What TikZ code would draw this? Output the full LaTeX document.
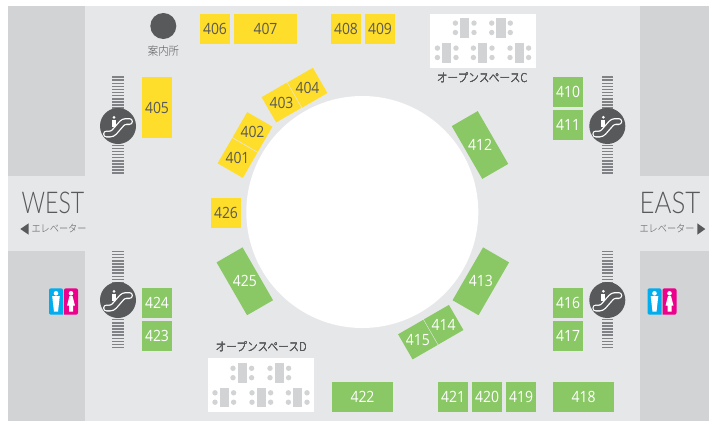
\documentclass[tikz,border=0pt]{standalone}
\usepackage{fontspec}
\setmainfont{Open Sans}
\newfontfamily\numfont{Open Sans}[FakeStretch=0.9]
\newfontfamily\westfont{Lato Light}[FakeStretch=0.77]
\newfontfamily\eastfont{Lato Light}[FakeStretch=0.86]
\newfontfamily\jpfont{Noto Sans CJK JP Light}[FakeStretch=0.88]
\definecolor{floorgrey}{HTML}{E6E7E9}
\definecolor{blockgrey}{HTML}{D1D3D4}
\definecolor{boothyellow}{HTML}{FFDD2B}
\definecolor{boothgreen}{HTML}{8AC866}
\definecolor{inkgrey}{HTML}{58595B}
\definecolor{stairgrey}{HTML}{808285}
\definecolor{manblue}{HTML}{00AEEF}
\definecolor{ladypink}{HTML}{EC008C}
\tikzset{
    booth/.style={inner sep=0pt,outer sep=0pt,minimum width=30,minimum height=30,font=\numfont\fontsize{15.5}{15.5}\selectfont},
    wide/.style={minimum width=61},
    tall/.style={minimum height=61},
    yellowbooth/.style={booth,fill=boothyellow,text=inkgrey},
    greenbooth/.style={booth,fill=boothgreen,text=white},
    number/.style={inner sep=0pt,font=\numfont\fontsize{15.5}{15.5}\selectfont},
    jplabel/.style={inner sep=0pt,text=inkgrey,font=\jpfont\fontsize{12.2}{12.2}\selectfont},
    smalljp/.style={inner sep=0pt,text=inkgrey,font=\jpfont\fontsize{10.4}{10.4}\selectfont},
    titlelabel/.style={inner sep=0pt,text=inkgrey}
}
% one escalator: stairs above and below, disc on top
\newcommand{\escalator}[3]{
    \foreach \i in {0,...,31}
        \fill[stairgrey] (#1-5.7,#3+3.1*\i) rectangle (#1+5.7,#3+3.1*\i+1.5);
    \fill[inkgrey] (#1,#2) circle (18);
    \draw[white,line width=7,line cap=round,rounded corners=2.5] (#1-11.5,#2+8) -- (#1-5.5,#2+8) -- (#1+5.5,#2-4.5) -- (#1+11.5,#2-4.5);
    \draw[inkgrey,line width=4.4,line cap=round,rounded corners=2.5] (#1-11.5,#2+8) -- (#1-5.5,#2+8) -- (#1+5.5,#2-4.5) -- (#1+11.5,#2-4.5);
    \fill[white] (#1-4,#2-8.7) circle (1.5);
    \fill[white] (#1-6,#2-6.4) rectangle (#1-2.2,#2+0.7);
}
% one pair of toilet signs
\newcommand{\toilets}[1]{
    \fill[manblue,rounded corners=2] (#1,288.3) -- (#1+14,288.3) [sharp corners] -- (#1+14,314.7) [rounded corners=2] -- (#1,314.7) -- cycle;
    \fill[ladypink,rounded corners=2] (#1+29,288.3) -- (#1+15,288.3) [sharp corners] -- (#1+15,314.7) [rounded corners=2] -- (#1+29,314.7) -- cycle;
    \fill[white] (#1+7,293.3) circle (2.3);
    \fill[white] (#1+3.2,296) -- (#1+10.8,296) -- (#1+9,311.7) -- (#1+5,311.7) -- cycle;
    \fill[white] (#1+22,293.3) circle (2.3);
    \fill[white] (#1+20.5,296) -- (#1+23.5,296) -- (#1+26,305.7) -- (#1+24,305.7) -- (#1+24,311.7) -- (#1+20,311.7) -- (#1+20,305.7) -- (#1+18,305.7) -- cycle;
}
% tables with four chairs, #1 and #2 are the table centre
\newcommand{\meeting}[2]{
    \fill[blockgrey] (#1-4.7,#2-9.8) rectangle (#1+4.7,#2+9.8);
    \foreach \sx in {-9.3,9.3}
        \foreach \sy in {-4.7,4.7}
            \fill[blockgrey] (#1+\sx,#2+\sy) circle (2.7);
}
\begin{document}
\begin{tikzpicture}[x=1pt,y=-1pt]
    \useasboundingbox (0,0) rectangle (709,421);
    \fill[white] (0,0) rectangle (709,421);
    \fill[floorgrey] (8,6) rectangle (709,421);
    \fill[blockgrey] (8,6) rectangle (85,176);
    \fill[blockgrey] (8,251) rectangle (85,421);
    \fill[blockgrey] (640,6) rectangle (709,176);
    \fill[blockgrey] (640,251) rectangle (709,421);
    \node[circle,fill=white,inner sep=0pt,minimum size=232] (hall) at (362.3,212) {};

    % booths
    \foreach \name/\x/\y in {406/215/29,408/346/29,409/380/29,426/226/213}
        \node[yellowbooth] (b\name) at (\x,\y) {\name};
    \node[yellowbooth,wide,minimum width=63] (b407) at (265.5,29) {407};
    \node[yellowbooth,tall] (b405) at (157,107.5) {405};
    \foreach \name/\x/\y/\rot in {404/307.5/87.7/30,403/281.5/102.5/30,402/252.5/132/-30,401/237.5/158/-30}{
        \node[yellowbooth,minimum width=29.1,minimum height=29.1,rotate=\rot] (b\name) at (\x,\y) {};
        \node[number,text=inkgrey] (t\name) at (b\name) {\name};
    }
    \foreach \name/\x/\y in {410/568/92,411/568/125,416/568/303,417/568/336,424/157/303,423/157/336,421/453/397,420/487/397,419/521/397}
        \node[greenbooth] (b\name) at (\x,\y) {\name};
    \node[greenbooth,wide] (b418) at (583.5,397) {418};
    \node[greenbooth,wide] (b422) at (362.5,397) {422};
    \foreach \name/\x/\y/\rot in {412/480/145/30,413/480.8/281.3/-30,425/244.8/281.3/30}{
        \node[greenbooth,tall,rotate=\rot] (b\name) at (\x,\y) {};
        \node[number,text=white] (t\name) at (b\name) {\name};
    }
    \foreach \name/\x/\y in {414/443.6/324.7,415/417.9/339.6}{
        \node[greenbooth,minimum width=29,minimum height=29,rotate=30] (b\name) at (\x,\y) {};
        \node[number,text=white] (t\name) at (b\name) {\name};
    }

    % open spaces
    \fill[white] (430,14) rectangle (536,68);
    \foreach \x/\y in {464.7/27.8,501/27.8,446.7/52.8,482.7/52.8,519.3/52.8}
        \meeting{\x}{\y}
    \node[jplabel] (spacec) at (482,78) {オープンスペースC};
    \fill[white] (208,358.3) rectangle (314,411.7);
    \foreach \x/\y in {242.3/373,279.3/373,224.3/397.5,261.3/397.5,297.7/397.5}
        \meeting{\x}{\y}
    \node[jplabel] (spaced) at (261,347) {オープンスペースD};

    % info desk
    \fill[inkgrey] (163.3,26) circle (13);
    \node[jplabel,font=\jpfont\fontsize{11.8}{11.8}\selectfont] (desk) at (163.5,51.5) {案内所};

    % escalators and toilets
    \escalator{118}{126}{76.3}
    \escalator{118}{300}{250.7}
    \escalator{607.3}{126}{76.3}
    \escalator{607.3}{300}{250.7}
    \toilets{49}
    \toilets{647.5}

    % lift lobbies
    \node[titlelabel,font=\westfont\fontsize{30}{30}\selectfont] (west) at (53,203) {WEST};
    \node[titlelabel,font=\eastfont\fontsize{30}{30}\selectfont] (east) at (670,203) {EAST};
    \node[smalljp] (liftw) at (59,229) {エレベーター};
    \node[smalljp] (lifte) at (667,229) {エレベーター};
    \fill[inkgrey] (20.3,229) -- (28.7,223.3) -- (28.7,234.7) -- cycle;
    \fill[inkgrey] (705.3,229) -- (697.3,223.3) -- (697.3,234.7) -- cycle;
\end{tikzpicture}
\end{document}
